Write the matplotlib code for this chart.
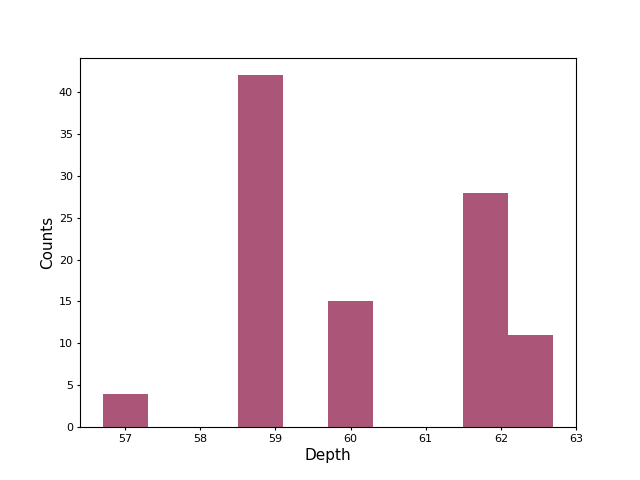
import matplotlib
matplotlib.use("Agg")
import matplotlib.pyplot as plt
import numpy as np

bin_edges = [56.7, 57.3, 57.9, 58.5, 59.1, 59.7, 60.3, 60.9, 61.5, 62.1, 62.7]
counts = [4, 0, 0, 42, 0, 15, 0, 0, 28, 11]

centers = [(a + b) / 2 for a, b in zip(bin_edges[:-1], bin_edges[1:])]

fig, ax = plt.subplots(figsize=(6.4, 4.8), dpi=100)
ax.hist(centers, bins=bin_edges, weights=counts, color='#ab5679')
ax.set_xlabel('Depth', fontsize=11, labelpad=3)
ax.set_ylabel('Counts', fontsize=11, labelpad=3)
ax.tick_params(labelsize=8, length=2.5, pad=2.5)
fig.savefig('out.png')
